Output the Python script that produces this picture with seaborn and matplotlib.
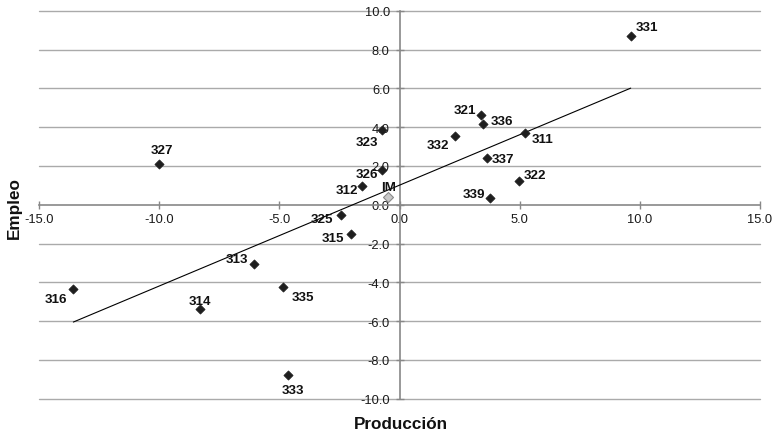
import numpy as np
import pandas as pd
import matplotlib
matplotlib.use("Agg")
import matplotlib.pyplot as plt
from matplotlib.ticker import FormatStrFormatter
import seaborn as sns

# ---- data ----
labels = ["331", "321", "336", "332", "311", "323", "337", "322", "339", "326",
          "312", "325", "315", "327", "313", "335", "316", "314", "333"]
produccion = [9.62, 3.38, 3.49, 2.31, 5.21, -0.73, 3.63, 4.96, 3.78, -0.74,
              -1.56, -2.45, -2.03, -10.01, -6.05, -4.84, -13.57, -8.30, -4.63]
empleo = [8.71, 4.62, 4.18, 3.53, 3.68, 3.85, 2.42, 1.22, 0.33, 1.80,
          0.95, -0.53, -1.53, 2.08, -3.07, -4.24, -4.35, -5.38, -8.78]
im_label = "IM"
im_produccion = [-0.47]
im_empleo = [0.38]
x_ticks = [-15, -10, -5, 0, 5, 10, 15]
y_ticks = [-10, -8, -6, -4, -2, 0, 2, 4, 6, 8, 10]

df = pd.DataFrame({"Producción": produccion, "Empleo": empleo, "rama": labels})
df_im = pd.DataFrame({"Producción": im_produccion, "Empleo": im_empleo})

# label offsets in pixels (dx right, dy down), alignment
offsets = {
    "331": (5, -9, "left"), "321": (-5, -5, "right"), "336": (7, -3, "left"),
    "332": (-6, 9, "right"), "311": (7, 6, "left"), "337": (5, 1, "left"),
    "322": (5, -6, "left"), "339": (-5, -4, "right"), "326": (-4, 4, "right"),
    "312": (-4, 4, "right"), "325": (-7, 4, "right"), "315": (-7, 4, "right"),
    "327": (3, -14, "center"), "316": (-6, 10, "right"), "314": (0, -8, "center"),
    "313": (-6, -5, "right"), "335": (8, 10, "left"), "333": (5, 15, "center"),
    "323": (-4, 12, "right"),
}

sns.set_style("white")
plt.rcParams["font.family"] = ["Liberation Sans", "DejaVu Sans"]
plt.rcParams["axes.unicode_minus"] = False

W, H = 776, 435
fig = plt.figure(figsize=(W / 100, H / 100), dpi=100)
ax = fig.add_axes([39 / W, 1 - 399.7 / H, (760 - 39) / W, (399.7 - 11.7) / H])

grid_c = "#aaaaaa"
axis_c = "#888888"

ax.set_xlim(-15, 15)
ax.set_ylim(-10, 10)

# horizontal gridlines
for yv in y_ticks:
    if yv != 0:
        ax.axhline(yv, color=grid_c, lw=1.0, zorder=0, clip_on=False)

# spines through origin
for s in ["top", "right"]:
    ax.spines[s].set_visible(False)
ax.spines["left"].set_position(("data", 0))
ax.spines["bottom"].set_position(("data", 0))
for s in ["left", "bottom"]:
    ax.spines[s].set_color(axis_c)
    ax.spines[s].set_linewidth(1.2)
    ax.spines[s].set_zorder(1)

ax.set_xticks(x_ticks)
ax.set_yticks(y_ticks)
ax.xaxis.set_major_formatter(FormatStrFormatter("%.1f"))
ax.yaxis.set_major_formatter(FormatStrFormatter("%.1f"))
ax.tick_params(axis="both", direction="inout", length=6, width=1.0,
               color=axis_c, labelsize=9.3, labelcolor="#1a1a1a")
ax.tick_params(axis="x", pad=3)
ax.tick_params(axis="y", pad=4)
ax.xaxis.set_ticks_position("bottom")
ax.yaxis.set_ticks_position("left")

# trend line (OLS over the branches)
sns.regplot(data=df, x="Producción", y="Empleo", scatter=False, ci=None,
            truncate=True, ax=ax, line_kws={"color": "black", "lw": 0.8, "zorder": 2})

# points
sns.scatterplot(data=df, x="Producción", y="Empleo", marker="D", s=22,
                color="#1e1e1e", edgecolor="#1e1e1e", linewidth=0.5, ax=ax, zorder=3)
sns.scatterplot(data=df_im, x="Producción", y="Empleo", marker="D", s=26,
                color="#c8c8c8", edgecolor="#8a8a8a", linewidth=0.8, ax=ax, zorder=3)

ax.set_xlabel("")
ax.set_ylabel("")

for lab, xv, yv in zip(labels, produccion, empleo):
    dx, dy, ha = offsets[lab]
    ax.annotate(lab, (xv, yv), xytext=(dx, -dy), textcoords="offset pixels",
                ha=ha, va="center", fontsize=9.6, fontweight="bold", color="#111111",
                zorder=4)
ax.annotate(im_label, (im_produccion[0], im_empleo[0]), xytext=(0, 10),
            textcoords="offset pixels", ha="center", va="center",
            fontsize=9.6, fontweight="bold", color="#111111", zorder=4)

fig.text(401 / W, 1 - 425 / H, "Producción", ha="center", va="center",
         fontsize=12.3, fontweight="bold", color="#111111")
fig.text(14 / W, 1 - 208 / H, "Empleo", ha="center", va="center", rotation=90,
         fontsize=12.3, fontweight="bold", color="#111111")

fig.savefig("out.png", dpi=100, facecolor="white")
